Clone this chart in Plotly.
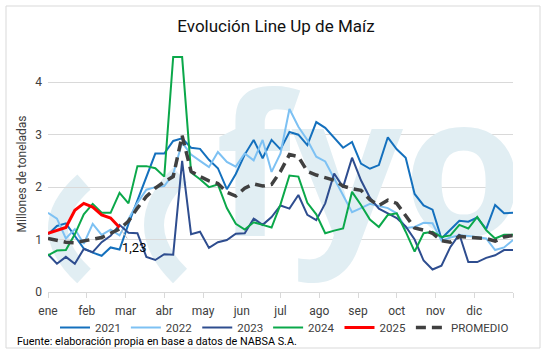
import plotly.graph_objects as go

months = ["ene", "feb", "mar", "abr", "may", "jun", "jul", "ago", "sep", "oct", "nov", "dic"]
weeks = list(range(1, 54))

y2021 = [1.10, 1.26, 1.31, 1.08, 0.83, 0.75, 0.69, 0.85, 0.81, 1.30, 1.75, 2.20, 2.64, 2.64, 2.88, 2.93,
         2.75, 2.73, 2.52, 2.36, 1.96, 2.25, 2.62, 2.90, 2.55, 2.90, 2.72, 3.05, 3.00, 2.80, 3.24, 3.13,
         2.95, 2.75, 2.86, 2.45, 2.35, 2.42, 2.95, 2.72, 2.56, 1.87, 1.65, 1.57, 1.02, 1.20, 1.36, 1.34,
         1.42, 1.20, 1.66, 1.50, 1.51]
y2022 = [1.51, 1.40, 1.02, 1.20, 0.92, 1.30, 1.09, 1.19, 1.08, 1.40, 1.70, 1.95, 2.00, 2.02, 2.25, 2.85,
         2.62, 2.50, 2.38, 2.67, 2.48, 2.39, 2.64, 2.51, 2.90, 2.29, 2.64, 3.49, 3.15, 2.90, 2.58, 2.49,
         2.17, 1.85, 1.52, 1.60, 1.68, 1.64, 1.60, 1.50, 1.22, 1.24, 1.32, 1.31, 0.98, 1.04, 1.08, 1.07,
         1.05, 1.02, 0.80, 0.85, 0.99]
y2023 = [0.72, 0.54, 0.67, 0.54, 0.82, 0.76, 0.95, 1.07, 1.28, 1.13, 1.12, 0.67, 0.61, 0.72, 0.71, 2.50,
         1.10, 1.15, 0.84, 0.95, 0.99, 1.11, 1.12, 1.40, 1.28, 1.43, 1.65, 1.59, 1.85, 1.47, 1.37, 1.69,
         2.26, 2.00, 2.56, 2.13, 1.80, 1.59, 1.50, 1.41, 1.25, 1.00, 0.60, 0.43, 0.50, 0.86, 1.10, 0.57,
         0.57, 0.65, 0.70, 0.80, 0.80]
y2024 = [0.70, 0.79, 0.80, 1.10, 1.48, 1.68, 1.51, 1.51, 1.89, 1.69, 2.40, 2.40, 2.36, 2.20, 4.48, 4.48,
         2.28, 2.15, 2.00, 2.05, 1.60, 1.30, 1.19, 1.33, 1.28, 1.23, 1.67, 2.22, 2.20, 1.70, 1.48, 1.12,
         1.17, 1.21, 1.91, 1.66, 1.38, 1.24, 1.47, 1.50, 1.15, 0.77, 1.12, 1.15, 1.05, 1.08, 1.28, 1.21,
         1.43, 1.18, 1.02, 1.09, 1.09]
y2025 = [1.12, 1.17, 1.23, 1.56, 1.69, 1.62, 1.47, 1.41, 1.23]
promedio = [1.02, 0.98, 0.95, 0.94, 0.97, 1.00, 1.04, 1.12, 1.20, 1.35, 1.60, 1.82, 1.98, 2.10, 2.20, 2.98,
            2.30, 2.20, 2.12, 2.07, 1.90, 1.83, 1.98, 2.06, 2.02, 2.05, 2.30, 2.62, 2.58, 2.30, 2.23, 2.18,
            2.13, 2.02, 1.97, 1.94, 1.76, 1.65, 1.75, 1.69, 1.45, 1.22, 1.18, 1.12, 0.98, 0.95, 1.06, 1.05,
            1.04, 1.02, 0.97, 1.05, 1.08]

series = [
    ("2021", y2021, "#1470BD", 2, "solid"),
    ("2022", y2022, "#7DC1F3", 2, "solid"),
    ("2023", y2023, "#2E4D8F", 2, "solid"),
    ("2024", y2024, "#0BA84A", 2, "solid"),
    ("PROMEDIO", promedio, "#404040", 3.5, "10px,6px"),
    ("2025", y2025, "#FF0000", 3, "solid"),
]
legend_rank = {"2021": 1, "2022": 2, "2023": 3, "2024": 4, "2025": 5, "PROMEDIO": 6}

FONT = "Roboto, sans-serif"

# plot area geometry in pixels (for decorations only)
L, R, T, B = 48, 34, 56, 62
W, H = 547, 354
PW, PH = W - L - R, H - T - B


def px(xp, yp):
    return (xp - L) / PW, (H - B - yp) / PH


fig = go.Figure()

# watermark text
fig.add_trace(go.Scatter(
    x=[37.0], y=[2.0], mode="text", text=["fyo"],
    textfont=dict(family="Open Sans", size=196, color="#E1EEF3", weight="bold"),
    showlegend=False, hoverinfo="skip"))

for name, vals, color, width, dash in series:
    fig.add_trace(go.Scatter(
        x=weeks[:len(vals)], y=vals, mode="lines", name=name,
        line=dict(color=color, width=width, dash=dash),
        legendrank=legend_rank[name]))

shapes = []
# watermark arcs
for (xa, ya, xc, yc, xb, yb) in [(84, 182, 32, 228, 84, 276), (180, 175, 128, 225, 180, 276)]:
    a = px(xa, ya); c = px(xc, yc); b = px(xb, yb)
    shapes.append(dict(type="path", xref="paper", yref="paper", layer="below",
                       path=f"M {a[0]},{a[1]} Q {c[0]},{c[1]} {b[0]},{b[1]}",
                       line=dict(color="#E1EEF3", width=20)))
# outer border
b0 = px(6, 348); b1 = px(540, 6)
shapes.append(dict(type="rect", xref="paper", yref="paper", x0=b0[0], y0=b0[1], x1=b1[0], y1=b1[1],
                   line=dict(color="#D9D9D9", width=1)))

last = y2025[-1]
annotations = [
    dict(x=len(y2025), y=last, xref="x", yref="y", text=f"{last:.2f}".replace(".", ","),
         showarrow=True, arrowhead=0, arrowcolor="#BFBFBF", arrowwidth=1, ax=14, ay=20, standoff=3,
         font=dict(family=FONT, size=13, color="#000000")),
    dict(x=px(15, 0)[0], y=px(0, 341)[1], xref="paper", yref="paper", xanchor="left", yanchor="middle",
         text="Fuente: elaboración propia en base a datos de NABSA S.A.", showarrow=False,
         font=dict(family=FONT, size=10.8, color="#000000")),
]

tickvals = [1 + k * 52 / 12 for k in range(13)]

fig.update_layout(
    width=W, height=H,
    margin=dict(l=L, r=R, t=T, b=B),
    paper_bgcolor="white", plot_bgcolor="white",
    title=dict(text="Evolución Line Up de Maíz", x=276 / W, xref="container", xanchor="center",
               y=1 - 26 / H, yref="container", yanchor="middle",
               font=dict(family=FONT, size=17, color="#111111")),
    xaxis=dict(range=[1, 53], tickvals=tickvals, ticktext=months + [""], showgrid=False, zeroline=False,
               showline=True, linecolor="#D9D9D9", linewidth=1, ticks="outside", ticklen=5,
               tickcolor="#D9D9D9", ticklabelstandoff=3,
               tickfont=dict(family=FONT, size=12, color="#404040")),
    yaxis=dict(range=[0, 4.5], tickvals=[0, 1, 2, 3, 4], showgrid=True, gridcolor="#D9D9D9", gridwidth=1,
               zeroline=False, showline=False, ticks="", ticklabelstandoff=5,
               tickfont=dict(family=FONT, size=12, color="#404040"),
               title=dict(text="Millones de toneladas", standoff=6,
                          font=dict(family=FONT, size=12, color="#404040"))),
    legend=dict(orientation="h", x=px(55, 0)[0], xanchor="left", y=px(0, 313)[1], yanchor="top",
                font=dict(family=FONT, size=11.5, color="#404040"), itemwidth=30,
                bgcolor="rgba(0,0,0,0)"),
    shapes=shapes,
    annotations=annotations,
)

fig.write_html("out.html")
